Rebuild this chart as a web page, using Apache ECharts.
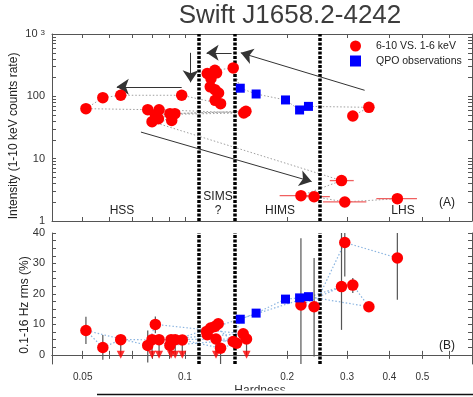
<!DOCTYPE html>
<html><head><meta charset="utf-8">
<script src="https://cdn.jsdelivr.net/npm/echarts@6/dist/echarts.min.js"></script>
<style>html,body{margin:0;padding:0;background:#fff}#c{width:473px;height:397px}</style>
</head><body><div id="c"></div>
<script>
// ---------- data (time ordered) ----------
const titleText = 'Swift J1658.2-4242';
// top panel: hardness vs 1-10 keV count rate
const hardA = [0.312, 0.348, 0.231, 0.2175, 0.1977, 0.162, 0.1455, 0.1387, 0.1225, 0.1163, 0.1239, 0.1193, 0.1187, 0.1225, 0.1256, 0.1227, 0.1273, 0.0978, 0.0647, 0.0573, 0.0511, 0.0777, 0.0839, 0.149, 0.0818, 0.0903, 0.1512, 0.0934, 0.0835, 0.0914, 0.0800, 0.289, 0.2195, 0.240, 0.2955, 0.422];
const rateA = [48.4, 66.6, 69.0, 60.4, 87.5, 109, 135, 286, 262, 232, 238, 193, 142, 128, 113, 86.2, 76.3, 104, 104, 95.3, 63.4, 61.1, 61.0, 54.1, 50.8, 52.7, 57.4, 52.7, 43.8, 41.1, 39.2, 4.45, 2.55, 2.46, 2.02, 2.28];
const kindA = ['R','R','B','B','B','B','B','R','R','R','R','R','R','R','R','R','R','R','R','R','R','R','R','R','R','R','R','R','R','R','R','R','R','R','R','R'];
const hardLoA = [null,null,null,null,null,null,null,null,null,null,null,null,null,null,null,null,null,null,null,null,null,null,null,null,null,null,null,null,null,null,null,0.267,0.190,0.215,0.255,0.366];
const hardHiA = [null,null,null,null,null,null,null,null,null,null,null,null,null,null,null,null,null,null,null,null,null,null,null,null,null,null,null,null,null,null,null,0.314,0.245,0.267,0.342,0.482];
// bottom panel: hardness vs 0.1-16 Hz rms
const hardB = [0.312, 0.348, 0.231, 0.2175, 0.1977, 0.162, 0.1455, 0.1387, 0.1225, 0.1158, 0.1253, 0.1190, 0.1163, 0.1234, 0.1419, 0.1273, 0.0982, 0.0647, 0.0573, 0.0511, 0.0777, 0.0818, 0.1484, 0.0800, 0.0903, 0.1518, 0.0839, 0.0910, 0.0936, 0.289, 0.2195, 0.240, 0.2955, 0.422];
const rmsB  = [22.9, 15.8, 19.1, 18.7, 18.3, 13.7, 11.7, 4.4, 9.3, 7.7, 10.2, 8.8, 6.6, 5.2, 3.8, 2.2, 4.9, 5.0, 2.4, 8.0, 3.1, 10.0, 6.9, 5.0, 3.1, 5.2, 5.0, 5.0, 5.0, 22.4, 16.4, 15.8, 36.9, 31.8];
const rmsLoB = [20.3, null, null, null, null, null, null, null, null, null, null, null, null, null, null, -3.5, null, null, -1.6, 3.6, -2.5, 7.1, null, null, 1.8, null, null, null, null, 8.2, -4, -0.5, 25.7, 18.1];
const rmsHiB = [25.2, null, null, null, null, null, null, null, null, null, null, null, null, null, null, 4.0, null, null, 6.5, 12.5, 8.0, 12.6, null, null, 4.5, null, null, null, null, 41, 38.3, 31.8, 41, 41];
const upperB = [0,0,0,0,0,0,0,0,0,0,0,0,0,1,0,0,1,1,0,0,0,0,0,1,0,1,1,1,1,0,0,0,0,0];
const kindB = ['R','R','B','B','B','B','B','R','R','R','R','R','R','R','R','R','R','R','R','R','R','R','R','R','R','R','R','R','R','R','R','R','R','R'];
const limitLevel = 0;
// state boundaries (hardness)
const dividers = [0.1115, 0.1419, 0.2535];
// annotation arrows (hardness, rate) start -> end
const arrowStart = [[0.338, 125], [0.1372, 499], [0.1039, 499], [0.0978, 142], [0.0742, 26.7]];
const arrowEnd   = [[0.146, 499], [0.1158, 499], [0.1039, 168], [0.063, 142], [0.236, 4.29]];
// tick values
const xTickLabels = [0.05, 0.1, 0.2, 0.3, 0.4, 0.5];
const xTicks = [0.05, 0.06, 0.07, 0.08, 0.09, 0.1, 0.2, 0.3, 0.4, 0.5, 0.6, 0.7];
const yTopLabels = [1, 10, 100, 1000];
const yTopTicks = [1,2,3,4,5,6,7,8,9,10,20,30,40,50,60,70,80,90,100,200,300,400,500,600,700,800,900,1000];
const yBotLabels = [0, 10, 20, 30, 40];
const yBotTicks = [0, 2.5, 5, 7.5, 10, 12.5, 15, 17.5, 20, 22.5, 25, 27.5, 30, 32.5, 35, 37.5, 40];
const legendNames = ['6-10 VS. 1-6 keV', 'QPO observations'];

// ---------- chart ----------
const FONT = '"Liberation Sans", Arial, sans-serif';
const chart = echarts.init(document.getElementById('c'), null, {renderer: 'canvas'});

const topPts = hardA.map((h, i) => [h, rateA[i]]);
const redTop = topPts.filter((_, i) => kindA[i] === 'R');
const blueTop = topPts.filter((_, i) => kindA[i] === 'B');
const hErr = hardA.map((h, i) => [hardLoA[i], hardHiA[i], rateA[i]]).filter(d => d[0] != null);

const botPts = hardB.map((h, i) => [h, rmsB[i]]);
const redBot = botPts.filter((_, i) => kindB[i] === 'R');
const blueBot = botPts.filter((_, i) => kindB[i] === 'B');
const vErr = [];
hardB.forEach((h, i) => {
  if (upperB[i]) vErr.push([h, limitLevel, rmsB[i]]);
  else if (rmsLoB[i] != null) vErr.push([h, rmsLoB[i], rmsHiB[i]]);
});
const ulPts = hardB.map((h, i) => [h, limitLevel]).filter((_, i) => upperB[i]);

const tickStyle = {show: true, inside: true, length: 4, lineStyle: {color: '#555'}};
function xAx(grid, pos, labels) {
  return {
    gridIndex: grid, position: pos, type: 'log', min: 0.0406, max: 0.7, splitLine: {show: false},
    axisLine: {show: true, lineStyle: {color: '#555'}},
    axisTick: Object.assign({customValues: xTicks}, tickStyle),
    minorTick: {show: false},
    axisLabel: labels ? {show: true, customValues: xTickLabels, fontSize: 10, color: '#333', fontFamily: FONT, margin: 8, formatter: v => String(v)} : {show: false}
  };
}
function yTop(pos, labels) {
  return {
    gridIndex: 0, position: pos, type: 'log', min: 1, max: 1000, splitLine: {show: false},
    axisLine: {show: true, lineStyle: {color: '#555'}},
    axisTick: Object.assign({customValues: yTopTicks}, tickStyle),
    axisLabel: labels ? {customValues: yTopLabels, fontSize: 11, color: '#333', fontFamily: FONT, margin: 7,
      formatter: v => v === 1000 ? '{a|10}{s|3}' : String(v),
      rich: {a: {fontSize: 11, color: '#333', fontFamily: FONT}, s: {fontSize: 8, color: '#333', fontFamily: FONT, verticalAlign: 'top', padding: [0, 0, 0, 3]}}} : {show: false}
  };
}
function yBot(pos, labels) {
  return {
    gridIndex: 1, position: pos, type: 'value', min: -3, max: 40, splitLine: {show: false},
    axisLine: {show: true, lineStyle: {color: '#555'}},
    axisTick: Object.assign({customValues: yBotTicks}, tickStyle),
    axisLabel: labels ? {customValues: yBotLabels, fontSize: 11, color: '#333', fontFamily: FONT, margin: 7} : {show: false}
  };
}

const option = {
  animation: false,
  backgroundColor: '#fff',
  grid: [
    {left: 52, top: 34, width: 420, height: 187, show: false},
    {left: 52, top: 233, width: 420, height: 131, show: false}
  ],
  xAxis: [xAx(0, 'bottom', false), xAx(1, 'bottom', true), xAx(0, 'top', false), xAx(1, 'top', false)],
  yAxis: [yTop('left', true), yBot('left', true), yTop('right', false), yBot('right', false)],
  legend: {
    data: legendNames, orient: 'vertical', left: 350, top: 40.5, padding: 0, itemWidth: 11, itemHeight: 11, itemGap: 4,
    textStyle: {fontSize: 10.5, color: '#222', fontFamily: FONT, padding: [0, 0, 0, 10]}, selectedMode: false
  },
  graphic: [
    {type: 'text', x: 290, y: 16, style: {text: titleText, fill: '#3c3c3c', font: '26px ' + FONT, textAlign: 'center', textVerticalAlign: 'middle'}, z: 100},
    {type: 'text', x: 14, y: 136, rotation: Math.PI / 2, style: {text: 'Intensity (1-10 keV counts rate)', fill: '#222', font: '12px ' + FONT, textAlign: 'center', textVerticalAlign: 'middle'}},
    {type: 'text', x: 25, y: 305, rotation: Math.PI / 2, style: {text: '0.1-16 Hz rms (%)', fill: '#222', font: '12px ' + FONT, textAlign: 'center', textVerticalAlign: 'middle'}},
    {type: 'text', x: 122, y: 211, style: {text: 'HSS', fill: '#222', font: '12px ' + FONT, textAlign: 'center', textVerticalAlign: 'middle'}},
    {type: 'text', x: 218, y: 197, style: {text: 'SIMS', fill: '#222', font: '12px ' + FONT, textAlign: 'center', textVerticalAlign: 'middle'}},
    {type: 'text', x: 218, y: 211, style: {text: '?', fill: '#222', font: '12px ' + FONT, textAlign: 'center', textVerticalAlign: 'middle'}},
    {type: 'text', x: 280, y: 211, style: {text: 'HIMS', fill: '#222', font: '12px ' + FONT, textAlign: 'center', textVerticalAlign: 'middle'}},
    {type: 'text', x: 403, y: 211, style: {text: 'LHS', fill: '#222', font: '12px ' + FONT, textAlign: 'center', textVerticalAlign: 'middle'}},
    {type: 'text', x: 447, y: 203, style: {text: '(A)', fill: '#222', font: '12px ' + FONT, textAlign: 'center', textVerticalAlign: 'middle'}},
    {type: 'text', x: 447, y: 346, style: {text: '(B)', fill: '#222', font: '12px ' + FONT, textAlign: 'center', textVerticalAlign: 'middle'}},
    {type: 'text', x: 260, y: 385, style: {text: 'Hardness', fill: '#333', font: '12px ' + FONT, textAlign: 'center', textVerticalAlign: 'top'}, z: 50},
    {type: 'rect', shape: {x: 90, y: 390.5, width: 383, height: 7}, style: {fill: '#fff'}, z: 60},
    {type: 'line', shape: {x1: 97, y1: 394.5, x2: 473, y2: 394.5}, style: {stroke: '#111', lineWidth: 1.5}, z: 61}
  ],
  series: [
    {type: 'line', name: 'pathTop', xAxisIndex: 0, yAxisIndex: 0, data: topPts, symbol: 'none', silent: true, z: 1,
     lineStyle: {color: '#a0a0a0', width: 1, type: [1.5, 2]},
     markLine: {silent: true, symbol: 'none', label: {show: false}, animation: false,
       lineStyle: {color: '#000', width: 3.5, type: [3, 1.5]},
       data: dividers.map(v => ({xAxis: v}))}},
    {type: 'custom', name: 'hErr', xAxisIndex: 0, yAxisIndex: 0, data: hErr, silent: true, z: 2, clip: true,
     encode: {x: [0, 1], y: 2},
     renderItem: (params, api) => {
       const p1 = api.coord([api.value(0), api.value(2)]);
       const p2 = api.coord([api.value(1), api.value(2)]);
       return {type: 'line', shape: {x1: p1[0], y1: p1[1], x2: p2[0], y2: p2[1]}, style: {stroke: '#f06060', lineWidth: 1.3}};
     }},
    {type: 'scatter', name: legendNames[0], xAxisIndex: 0, yAxisIndex: 0, data: redTop, symbol: 'circle', symbolSize: 11.5, itemStyle: {color: '#ff0000', opacity: 1}, z: 5},
    {type: 'scatter', name: legendNames[1], xAxisIndex: 0, yAxisIndex: 0, data: blueTop, symbol: 'square', symbolSize: 9, itemStyle: {color: '#0000ff', opacity: 1}, z: 5},
    {type: 'line', name: 'arrows', xAxisIndex: 0, yAxisIndex: 0, data: [], symbol: 'none', silent: true, z: 6,
     markLine: {silent: true, symbol: ['none', 'arrow'], symbolSize: 12, label: {show: false}, animation: false,
       lineStyle: {color: '#333', width: 1, type: 'solid'},
       data: arrowStart.map((s, i) => [{coord: s}, {coord: arrowEnd[i]}])}},
    // bottom panel
    {type: 'line', name: 'pathBot', xAxisIndex: 1, yAxisIndex: 1, data: botPts, symbol: 'none', silent: true, z: 1,
     lineStyle: {color: '#8ab4e0', width: 1.2, type: [1.5, 2]},
     markLine: {silent: true, symbol: 'none', label: {show: false}, animation: false,
       lineStyle: {color: '#000', width: 3.5, type: [3, 1.5]},
       data: dividers.map(v => ({xAxis: v}))}},
    {type: 'custom', name: 'vErr', xAxisIndex: 1, yAxisIndex: 1, data: vErr, silent: true, z: 2, clip: true,
     encode: {x: 0, y: [1, 2]},
     renderItem: (params, api) => {
       const p1 = api.coord([api.value(0), api.value(1)]);
       const p2 = api.coord([api.value(0), api.value(2)]);
       return {type: 'line', shape: {x1: p1[0], y1: p1[1], x2: p2[0], y2: p2[1]}, style: {stroke: '#555', lineWidth: 1.2}};
     }},
    {type: 'scatter', name: 'ul', xAxisIndex: 1, yAxisIndex: 1, data: ulPts, symbol: 'triangle', symbolRotate: 180, symbolSize: [8, 8], itemStyle: {color: '#ff0000'}, z: 4},
    {type: 'scatter', name: legendNames[0], xAxisIndex: 1, yAxisIndex: 1, data: redBot, symbol: 'circle', symbolSize: 11.5, itemStyle: {color: '#ff0000', opacity: 1}, z: 5},
    {type: 'scatter', name: legendNames[1], xAxisIndex: 1, yAxisIndex: 1, data: blueBot, symbol: 'square', symbolSize: 9, itemStyle: {color: '#0000ff', opacity: 1}, z: 5}
  ]
};
chart.setOption(option);
</script>
</body></html>
